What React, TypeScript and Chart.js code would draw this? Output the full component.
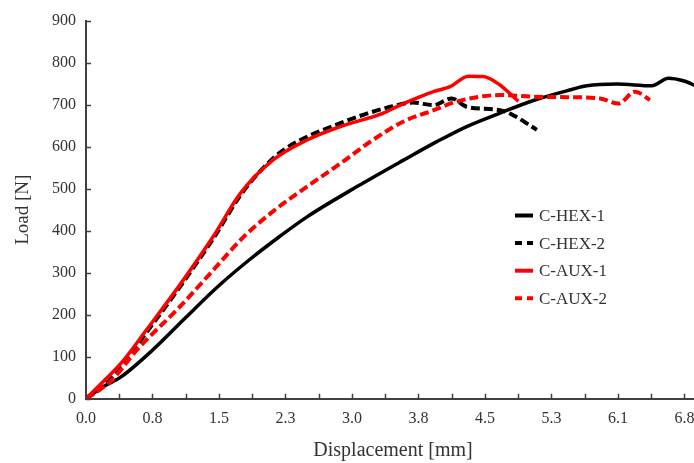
import React, { useEffect, useRef } from "react";
import { Chart, registerables } from "chart.js";

Chart.register(...registerables);

// ---- data ----
const xTickLabels = ["0.0", "0.8", "1.5", "2.3", "3.0", "3.8", "4.5", "5.3", "6.1", "6.8"];
const xLabelStep = 0.758;
const xMin = 0;
const xMax = 7.0;
const yMin = 0;
const yMax = 900;
const yStep = 100;

const xTitle = "Displacement [mm]";
const yTitle = "Load [N]";
const seriesNames = ["C-HEX-1", "C-HEX-2", "C-AUX-1", "C-AUX-2"];

const hex1X = [0, 0.2, 0.4, 0.76, 1.14, 1.52, 1.87, 2.2, 2.52, 3.09, 3.62, 4.0, 4.34, 4.72, 5.1, 5.48, 5.71, 6.05, 6.45, 6.64, 6.81, 6.93, 7.0];
const hex1Y = [0, 29, 52, 116, 194, 270, 332, 385, 433, 505, 568, 612, 648, 680, 710, 733, 745, 749, 745, 763, 757, 747, 740];

const hex2X = [0, 0.2, 0.43, 0.69, 1.07, 1.45, 1.76, 2.0, 2.25, 2.9, 3.47, 3.73, 3.96, 4.17, 4.34, 4.72, 4.87, 5.14];
const hex2Y = [0, 30, 87, 158, 266, 381, 484, 545, 592, 656, 695, 705, 699, 715, 695, 687, 675, 640];

const aux1X = [0, 0.16, 0.43, 0.69, 1.07, 1.45, 1.76, 2.13, 2.52, 2.9, 3.39, 3.54, 3.81, 3.96, 4.15, 4.36, 4.53, 4.72, 4.83, 4.93];
const aux1Y = [0, 33, 92, 164, 271, 386, 489, 568, 616, 648, 680, 695, 719, 731, 743, 768, 767, 747, 727, 708];

const aux2X = [0, 0.2, 0.3, 0.58, 1.07, 1.45, 1.8, 2.15, 2.52, 2.9, 3.27, 3.62, 3.98, 4.22, 4.72, 5.1, 5.48, 5.86, 6.07, 6.26, 6.43];
const aux2Y = [0, 28, 45, 116, 219, 306, 386, 449, 505, 560, 616, 660, 688, 707, 723, 719, 718, 715, 703, 731, 711];

// ---- styles ----
const FONT = "'Liberation Serif', 'Times New Roman', serif";
const TEXT = "#333333";
const AXIS = "#404040";

const seriesX = [hex1X, hex2X, aux1X, aux2X];
const seriesY = [hex1Y, hex2Y, aux1Y, aux2Y];
const seriesColors = ["#000000", "#000000", "#ff0000", "#ff0000"];
const seriesDash = [[], [9, 4], [], [9, 4]];
const seriesWidth = [3.5, 4, 3.5, 4];
const legendDash = [[], [7, 5], [], [7, 5]];

const tickMarksPlugin = {
  id: "tickMarks",
  afterDraw(chart: any) {
    const ctx = chart.ctx;
    const xs = chart.scales.x;
    const ys = chart.scales.y;
    const area = chart.chartArea;
    ctx.save();
    ctx.strokeStyle = AXIS;
    ctx.lineWidth = 1.5;
    xs.ticks.forEach((t: any) => {
      const px = Math.round(xs.getPixelForValue(t.value)) + 0.5;
      ctx.beginPath();
      ctx.moveTo(px, area.bottom);
      ctx.lineTo(px, area.bottom - 5);
      ctx.stroke();
    });
    ys.ticks.forEach((t: any) => {
      const py = Math.round(ys.getPixelForValue(t.value)) + 0.5;
      ctx.beginPath();
      ctx.moveTo(area.left, py);
      ctx.lineTo(area.left + 5, py);
      ctx.stroke();
    });
    ctx.restore();
  },
};

const legendPlugin = {
  id: "insideLegend",
  afterDraw(chart: any) {
    const ctx = chart.ctx;
    const x0 = 515;
    const x1 = 533;
    const tx = 539;
    const y0 = 215.5;
    const dy = 27.6;
    ctx.save();
    chart.data.datasets.forEach((ds: any, i: number) => {
      const y = y0 + i * dy;
      ctx.beginPath();
      ctx.strokeStyle = ds.borderColor;
      ctx.lineWidth = 4;
      ctx.lineCap = "butt";
      ctx.setLineDash(legendDash[i]);
      ctx.moveTo(x0, y);
      ctx.lineTo(x1, y);
      ctx.stroke();
      ctx.setLineDash([]);
      ctx.fillStyle = TEXT;
      ctx.font = `17px ${FONT}`;
      ctx.textBaseline = "middle";
      ctx.textAlign = "left";
      ctx.fillText(ds.label, tx, y + 1);
    });
    ctx.restore();
  },
};

export default function App() {
  const ref = useRef<HTMLCanvasElement | null>(null);

  useEffect(() => {
    if (!ref.current) return;
    const datasets = seriesNames.map((name, i) => ({
      label: name,
      data: seriesX[i].map((x, j) => ({ x, y: seriesY[i][j] })),
      borderColor: seriesColors[i],
      backgroundColor: seriesColors[i],
      borderWidth: seriesWidth[i],
      borderDash: seriesDash[i],
      borderCapStyle: "butt" as const,
      borderJoinStyle: "round" as const,
      pointRadius: 0,
      cubicInterpolationMode: "monotone" as const,
      fill: false,
      order: seriesNames.length - i,
    }));

    const chart = new Chart(ref.current, {
      type: "line",
      data: { datasets },
      options: {
        animation: false,
        responsive: false,
        devicePixelRatio: 1,
        layout: { padding: { left: 0, right: 20, top: 20.7, bottom: 0 } },
        plugins: { legend: { display: false }, tooltip: { enabled: false } },
        scales: {
          x: {
            type: "linear",
            min: xMin,
            max: xMax,
            afterBuildTicks: (scale: any) => {
              scale.ticks = Array.from({ length: xTickLabels.length * 2 - 1 }, (_, i) => ({
                value: (i * xLabelStep) / 2,
              }));
            },
            afterFit: (scale: any) => {
              scale.height = 64.3;
            },
            ticks: {
              autoSkip: false,
              maxRotation: 0,
              padding: 10,
              color: TEXT,
              font: { family: FONT, size: 16 },
              callback: (_v: any, index: number) => (index % 2 === 0 ? xTickLabels[index / 2] : ""),
            },
            grid: { drawOnChartArea: false, drawTicks: false },
            border: { color: AXIS, width: 2 },
            title: {
              display: true,
              text: xTitle,
              color: TEXT,
              font: { family: FONT, size: 20 },
              padding: { top: 0, bottom: 0 },
            },
          },
          y: {
            type: "linear",
            min: yMin,
            max: yMax,
            afterFit: (scale: any) => {
              scale.width = 86;
            },
            ticks: {
              stepSize: yStep,
              padding: 10,
              color: TEXT,
              font: { family: FONT, size: 16 },
            },
            grid: { drawOnChartArea: false, drawTicks: false },
            border: { color: AXIS, width: 2 },
            title: {
              display: true,
              text: yTitle,
              color: TEXT,
              font: { family: FONT, size: 19 },
              padding: { top: 12, bottom: 0 },
            },
          },
        },
      },
      plugins: [tickMarksPlugin, legendPlugin],
    });
    return () => chart.destroy();
  }, []);

  return (
    <div
      style={{
        position: "fixed",
        left: 0,
        top: 0,
        width: 694,
        height: 463,
        overflow: "hidden",
        background: "#ffffff",
      }}
    >
      <canvas ref={ref} width={720} height={463} style={{ display: "block" }} />
    </div>
  );
}
